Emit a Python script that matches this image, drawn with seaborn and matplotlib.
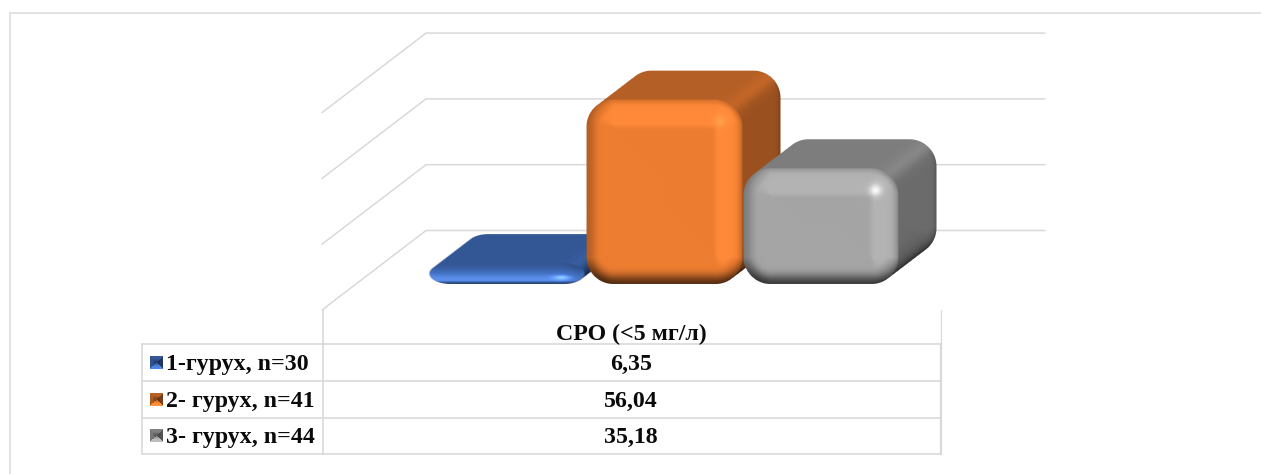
import numpy as np
import pandas as pd
import matplotlib
matplotlib.use("Agg")
import matplotlib.pyplot as plt
from matplotlib.patches import Rectangle
import seaborn as sns

# ---- data ----
metric = ["СРО (<5 мг/л)"]
groups = ["1-гурух, n=30", "2- гурух, n=41", "3- гурух, n=44"]
values = [6.35, 56.04, 35.18]
value_labels = ["6,35", "56,04", "35,18"]
grid_ticks = [0, 20, 40, 60]
colors = ["#4472C4", "#ED7D31", "#A5A5A5"]

W, H = 1261, 474
sns.set_theme(style="white")
plt.rcParams["font.family"] = ["Liberation Serif", "DejaVu Serif"]
LINE = "#D9D9D9"

PX_Y = 3.29      # pixels per value unit
BASE_Y = 284.0   # pixel row of value 0 on the bars' front
PX_X = 157 * 3 / 0.8
CENTER_X = 664.0
DEPTH = (38.0, 29.0)

fig = plt.figure(figsize=(W / 100, H / 100), dpi=100, facecolor="white")
ov = fig.add_axes([0, 0, 1, 1], zorder=0)
ov.set_xlim(0, W); ov.set_ylim(H, 0); ov.set_axis_off()
ax = fig.add_axes([0, 0, 1, 1], zorder=1)

df = pd.DataFrame({"metric": metric * len(groups), "group": groups, "value": values})
sns.barplot(data=df, x="metric", y="value", hue="group", palette=colors, width=0.8,
            gap=0.013, saturation=1, legend=False, ax=ax, zorder=3)
ax.set_xlim(-CENTER_X / PX_X, (W - CENTER_X) / PX_X)
ax.set_ylim(-(H - BASE_Y) / PX_Y, BASE_Y / PX_Y)
ax.set_axis_off()
ax.patch.set_alpha(0)


def x_of(px):
    return (px - CENTER_X) / PX_X


# gridlines of the walls / floor
for v in grid_ticks:
    ax.plot([x_of(322), x_of(426), x_of(1045)],
            [v - 26 / PX_Y, v + 53.5 / PX_Y, v + 53.5 / PX_Y],
            color=LINE, lw=1.1, zorder=1, solid_joinstyle="miter")


def sdf_round(X, Y, x0, y0, x1, y1, r):
    cx, cy = (x0 + x1) / 2, (y0 + y1) / 2
    qx = np.abs(X - cx) - ((x1 - x0) / 2 - r)
    qy = np.abs(Y - cy) - ((y1 - y0) / 2 - r)
    return np.hypot(np.maximum(qx, 0), np.maximum(qy, 0)) + np.minimum(np.maximum(qx, qy), 0) - r


def smooth(a, b, x):
    t = np.clip((x - a) / (b - a), 0, 1)
    return t * t * (3 - 2 * t)


def render_bar(x0, y0, x1, y1, color, spot):
    """RGBA raster of one bevelled bar, front box (x0,y0)-(x1,y1) in pixels."""
    dx, dy = DEPTH
    h = y1 - y0
    short = h < 40
    r = min(27.0, h * 0.5)
    sx = 0.5 if short else 1.0   # elliptic corners on a flat bar
    ix0, ix1 = int(x0) - 3, int(x1 + dx) + 4
    iy0, iy1 = int(y0 - dy) - 3, int(y1) + 4
    X, Y = np.meshgrid(np.arange(ix0, ix1) + 0.5, np.arange(iy0, iy1) + 0.5)
    base = np.array(matplotlib.colors.to_rgb(color))

    front = sdf_round(X * sx, Y, x0 * sx, y0, x1 * sx, y1, r)
    sweep = np.min([sdf_round(X * sx, Y, (x0 + t * dx) * sx, y0 - t * dy, (x1 + t * dx) * sx, y1 - t * dy, r)
                    for t in np.linspace(0, 1, 50)], axis=0)

    # depth faces
    cx, cy = x1 - r * 0.6, y0 + r * 0.6
    perp = ((X - cx) * dy + (Y - cy) * dx) / np.hypot(dx, dy)   # >0: side face
    side = smooth(-7, 7, perp)
    I = 0.76 * (1 - side) + 0.65 * side
    I = I + 0.07 * np.exp(-((perp + 2) / 10) ** 2)
    gy, gx = np.gradient(sweep)
    lower = np.clip(gy, 0, 1)
    I = I * (1 - 0.62 * lower * np.exp(-np.maximum(-sweep, 0) / 7) * side)
    I = I * (1 - 0.25 * np.exp(-np.maximum(-sweep, 0) / 2.0) * np.clip(gy + gx, 0, 1))

    # front face
    d = -front
    if short:
        v = (Y - y0) / h
        J = 0.76 + 0.36 * smooth(0.0, 0.8, v)
        J -= 0.55 * smooth(0.82, 1.0, v)
        J -= 0.12 * smooth(x1 - 25, x1, X)
        J += spot * np.exp(-(((X - (x1 - 23)) / 8) ** 2 + ((Y - (y1 - 6.5)) / 2.2) ** 2))
    else:
        b = 27.0
        fy, fx = np.gradient(front)
        nrm = np.hypot(fx, fy) + 1e-6
        fx, fy = fx / nrm, fy / nrm
        inside = smooth(b + 4, b - 4, d)
        J = np.ones_like(d)
        J += 0.05 * np.clip(-fy, 0, 1) * inside * smooth(0, 6, d)
        J += 0.05 * np.clip(fx, 0, 1) * inside * smooth(0, 6, d)
        J -= 0.22 * np.clip(fx, 0, 1) * np.exp(-np.maximum(d, 0) / 3)
        J -= 0.10 * np.clip(-fy, 0, 1) * np.exp(-np.maximum(d, 0) / 3)
        J -= 0.24 * np.clip(-fx, 0, 1) * smooth(15, 0, d)
        J -= 0.62 * np.clip(fy, 0, 1) * smooth(b * 0.8, 0, d) ** 2
        J += spot * np.exp(-(((X - (x1 - 23)) / 6) ** 2 + ((Y - (y0 + 22)) / 6) ** 2))

    fm = np.clip(0.5 - front, 0, 1)[..., None]
    Jc = J[..., None]
    lit = np.clip(base * Jc + (Jc > 1) * (Jc - 1) * 0.5, 0, 1)
    rgb = base * I[..., None] * (1 - fm) + lit * fm
    alpha = np.clip(0.5 - np.minimum(sweep, front), 0, 1)
    return np.dstack([np.clip(rgb, 0, 1), alpha]), (ix0, ix1, iy1, iy0), r


spots = [0.28, 0.07, 0.22]
to_px = ax.transData
for k, (patch, color, spot) in enumerate(zip(ax.patches, colors, spots)):
    # geometry comes from the bar seaborn drew on the axes' scales
    (px0, py0), (px1, py1) = to_px.transform(
        [(patch.get_x(), 0), (patch.get_x() + patch.get_width(), patch.get_height())])
    fy0, fy1 = H - py1, H - py0
    img, (a, c, e, f), r = render_bar(px0, fy0, px1, fy1, color, spot)
    inv = to_px.inverted()
    (dxa, dye), (dxc, dyf) = inv.transform([(a, H - e), (c, H - f)])
    ax.imshow(img, extent=(dxa, dxc, dye, dyf), aspect="auto", interpolation="nearest",
              origin="upper", zorder=patch.get_zorder() + 0.1 + 0.1 * k)
    # the plain bar stays underneath, kept inside the rounded silhouette
    inset = max(r * 0.4, 3.0)
    clip = Rectangle((patch.get_x() + inset / PX_X, inset / PX_Y),
                     patch.get_width() - 2 * inset / PX_X, patch.get_height() - 2 * inset / PX_Y,
                     transform=ax.transData, visible=False)
    ax.add_patch(clip)
    patch.set_clip_path(clip)
ax.set_xlim(-CENTER_X / PX_X, (W - CENTER_X) / PX_X)
ax.set_ylim(-(H - BASE_Y) / PX_Y, BASE_Y / PX_Y)

# frame of the picture
ov.plot([9.5, 9.5, W], [H, 13, 13], color=LINE, lw=1.1, solid_joinstyle="miter")

# data table
rows = [344, 381, 417.5, 454]
tl, tc, tr = 142, 323, 940.5
for y in rows:
    ov.plot([tl, tr], [y, y], color=LINE, lw=1.2)
ov.plot([tl, tl], [rows[0], rows[-1]], color=LINE, lw=1.2)
ov.plot([tc, tc], [310, rows[-1]], color=LINE, lw=1.2)
ov.plot([tr, tr], [310, rows[0]], color=LINE, lw=0.9)
ov.plot([tr, tr], [rows[0], rows[-1]], color=LINE, lw=1.6)

txt = dict(color="#0A0A0A", fontweight="bold", fontsize=17.2)
ov.text(631, 340.5, metric[0], ha="center", va="baseline", **txt)
mids = [(rows[i] + rows[i + 1]) / 2 for i in range(3)]
n = 13
u, w = np.meshgrid((np.arange(n) + .5) / n - .5, (np.arange(n) + .5) / n - .5)
shade = np.where(np.abs(w) >= np.abs(u), np.where(w < 0, 0.78, 1.15), np.where(u < 0, 0.72, 0.5))
shade = shade * (0.62 + 0.38 * np.clip(np.maximum(np.abs(u), np.abs(w)) / 0.3, 0, 1))
for i, (g, lab, c) in enumerate(zip(groups, value_labels, colors)):
    y = mids[i]
    ov.text(631, y + 7.5, lab, ha="center", va="baseline", **txt)
    ov.text(166.5, y + 7.5, g, ha="left", va="baseline", **txt)
    # pyramid-shaded legend key
    key = np.clip(np.array(matplotlib.colors.to_rgb(c)) * shade[..., None], 0, 1)
    ov.imshow(key, extent=(150, 163, y + 6.5, y - 6.5), aspect="auto", interpolation="nearest", zorder=2)
ov.set_xlim(0, W); ov.set_ylim(H, 0)

fig.savefig("out.png", dpi=100, facecolor="white")
